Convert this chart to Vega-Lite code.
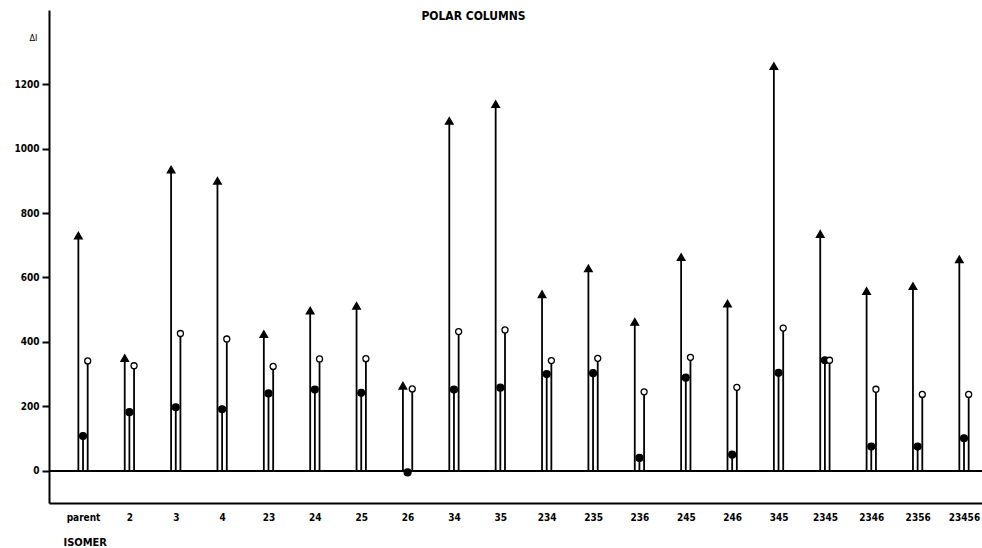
{
  "$schema": "https://vega.github.io/schema/vega-lite/v6.json",
  "width": 933,
  "height": 493,
  "autosize": {"type": "none"},
  "padding": {"left": 49, "top": 10, "right": 0, "bottom": 45},
  "background": "white",
  "title": {
    "text": "POLAR COLUMNS",
    "anchor": "middle",
    "font": "DejaVu Sans Condensed, DejaVu Sans, sans-serif",
    "fontSize": 12,
    "fontWeight": "bold",
    "color": "black",
    "baseline": "alphabetic",
    "offset": -22,
    "dx": -42
  },
  "config": {
    "view": {"stroke": null},
    "font": "DejaVu Sans Condensed, DejaVu Sans, sans-serif",
    "axis": {"domainColor": "black", "tickColor": "black", "labelColor": "black", "titleColor": "black", "grid": false}
  },
  "data": {
    "values": [
      {"isomer": "parent", "series": "tri", "value": 730},
      {"isomer": "parent", "series": "filled", "value": 108},
      {"isomer": "parent", "series": "open", "value": 341},
      {"isomer": "2", "series": "tri", "value": 350},
      {"isomer": "2", "series": "filled", "value": 182},
      {"isomer": "2", "series": "open", "value": 326},
      {"isomer": "3", "series": "tri", "value": 935},
      {"isomer": "3", "series": "filled", "value": 197},
      {"isomer": "3", "series": "open", "value": 426},
      {"isomer": "4", "series": "tri", "value": 900},
      {"isomer": "4", "series": "filled", "value": 191},
      {"isomer": "4", "series": "open", "value": 409},
      {"isomer": "23", "series": "tri", "value": 424},
      {"isomer": "23", "series": "filled", "value": 240},
      {"isomer": "23", "series": "open", "value": 324},
      {"isomer": "24", "series": "tri", "value": 497},
      {"isomer": "24", "series": "filled", "value": 252},
      {"isomer": "24", "series": "open", "value": 347},
      {"isomer": "25", "series": "tri", "value": 512},
      {"isomer": "25", "series": "filled", "value": 242},
      {"isomer": "25", "series": "open", "value": 348},
      {"isomer": "26", "series": "tri", "value": 264},
      {"isomer": "26", "series": "filled", "value": -5},
      {"isomer": "26", "series": "open", "value": 254},
      {"isomer": "34", "series": "tri", "value": 1086},
      {"isomer": "34", "series": "filled", "value": 252},
      {"isomer": "34", "series": "open", "value": 432},
      {"isomer": "35", "series": "tri", "value": 1138},
      {"isomer": "35", "series": "filled", "value": 258},
      {"isomer": "35", "series": "open", "value": 437},
      {"isomer": "234", "series": "tri", "value": 548},
      {"isomer": "234", "series": "filled", "value": 300},
      {"isomer": "234", "series": "open", "value": 342},
      {"isomer": "235", "series": "tri", "value": 628},
      {"isomer": "235", "series": "filled", "value": 303},
      {"isomer": "235", "series": "open", "value": 349},
      {"isomer": "236", "series": "tri", "value": 462},
      {"isomer": "236", "series": "filled", "value": 40},
      {"isomer": "236", "series": "open", "value": 245},
      {"isomer": "245", "series": "tri", "value": 663},
      {"isomer": "245", "series": "filled", "value": 289},
      {"isomer": "245", "series": "open", "value": 352},
      {"isomer": "246", "series": "tri", "value": 519},
      {"isomer": "246", "series": "filled", "value": 50},
      {"isomer": "246", "series": "open", "value": 259},
      {"isomer": "345", "series": "tri", "value": 1256},
      {"isomer": "345", "series": "filled", "value": 304},
      {"isomer": "345", "series": "open", "value": 443},
      {"isomer": "2345", "series": "tri", "value": 735},
      {"isomer": "2345", "series": "filled", "value": 343},
      {"isomer": "2345", "series": "open", "value": 343},
      {"isomer": "2346", "series": "tri", "value": 558},
      {"isomer": "2346", "series": "filled", "value": 75},
      {"isomer": "2346", "series": "open", "value": 253},
      {"isomer": "2356", "series": "tri", "value": 573},
      {"isomer": "2356", "series": "filled", "value": 75},
      {"isomer": "2356", "series": "open", "value": 237},
      {"isomer": "23456", "series": "tri", "value": 656},
      {"isomer": "23456", "series": "filled", "value": 101},
      {"isomer": "23456", "series": "open", "value": 237}
    ]
  },
  "encoding": {
    "x": {
      "field": "isomer",
      "type": "nominal",
      "sort": null,
      "scale": {"type": "point", "padding": 0.561, "align": 0.654},
      "axis": {
        "title": "ISOMER",
        "titleFontSize": 11,
        "titleFontWeight": "bold",
        "titleColor": "black",
        "titleAnchor": "start",
        "titleAlign": "left",
        "titleX": 14,
        "titleY": 33,
        "labelAngle": 0,
        "labelFontSize": 10,
        "labelFontWeight": "bold",
        "labelPadding": 9,
        "ticks": false,
        "domainWidth": 2
      }
    },
    "y": {
      "type": "quantitative",
      "scale": {"domain": [-100, 1430], "nice": false, "zero": false},
      "axis": {
        "title": "ΔI",
        "titleColor": "black",
        "titleAngle": 0,
        "titleFontSize": 9,
        "titleFontWeight": "normal",
        "titleAlign": "right",
        "titleBaseline": "alphabetic",
        "titleX": -12,
        "titleY": 30,
        "values": [0, 200, 400, 600, 800, 1000, 1200],
        "format": "d",
        "labelFontSize": 10,
        "labelFontWeight": "bold",
        "labelPadding": 3,
        "tickSize": 7,
        "tickWidth": 2,
        "domainWidth": 2
      }
    }
  },
  "layer": [
    {
      "mark": {"type": "rule", "color": "black", "strokeWidth": 1.5},
      "encoding": {"y": {"datum": 0}, "x": null}
    },
    {
      "mark": {"type": "rule", "color": "black", "strokeWidth": 1.8},
      "encoding": {
        "xOffset": {"field": "series", "type": "nominal", "scale": {"type": "point", "domain": ["tri", "filled", "open"], "range": [-7, 7]}},
        "y": {"field": "value", "type": "quantitative"},
        "y2": {"datum": 0}
      }
    },
    {
      "mark": {"type": "point", "stroke": "black", "strokeWidth": 1.3, "opacity": 1},
      "encoding": {
        "xOffset": {"field": "series", "type": "nominal", "scale": {"type": "point", "domain": ["tri", "filled", "open"], "range": [-7, 7]}},
        "y": {"field": "value", "type": "quantitative"},
        "shape": {"field": "series", "type": "nominal", "scale": {"domain": ["tri", "filled", "open"], "range": ["triangle-up", "circle", "circle"]}, "legend": null},
        "fill": {"field": "series", "type": "nominal", "scale": {"domain": ["tri", "filled", "open"], "range": ["black", "black", "white"]}, "legend": null},
        "size": {"field": "series", "type": "nominal", "scale": {"domain": ["tri", "filled", "open"], "range": [58, 36, 18]}, "legend": null}
      }
    }
  ]
}
